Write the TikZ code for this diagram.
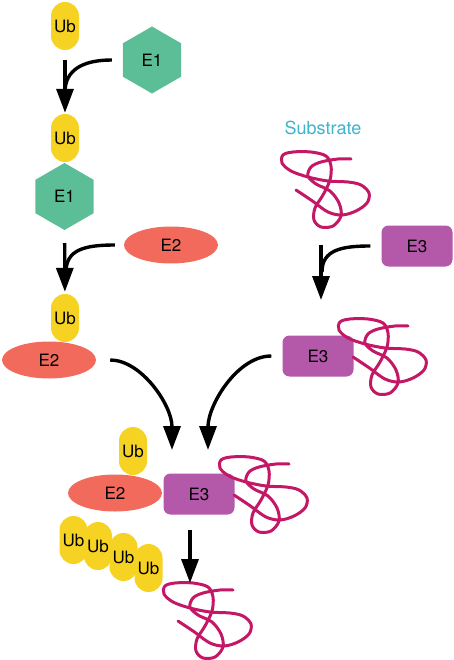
\documentclass[tikz,border=0pt]{standalone}
\usepackage{fontspec}
\setmainfont{TeX Gyre Heros}
\usetikzlibrary{arrows.meta,shapes.geometric}
\definecolor{ubyellow}{RGB}{246,210,35}
\definecolor{eonegreen}{RGB}{92,190,150}
\definecolor{etwored}{RGB}{241,106,92}
\definecolor{ethreepurple}{RGB}{180,88,170}
\definecolor{chainred}{RGB}{196,24,102}
\definecolor{subcyan}{RGB}{62,180,202}
\newcommand{\lbl}{\fontsize{17}{19}\selectfont}
\tikzstyle{ub}=[rectangle,rounded corners=14pt,fill=ubyellow,minimum width=28pt,minimum height=48pt,inner sep=0pt,font=\lbl]
\tikzstyle{eone}=[regular polygon,regular polygon sides=6,shape border rotate=30,fill=eonegreen,minimum size=67pt,inner sep=0pt,font=\lbl]
\tikzstyle{etwo}=[ellipse,fill=etwored,minimum width=94pt,minimum height=37pt,inner sep=0pt,font=\lbl]
\tikzstyle{ethree}=[rectangle,rounded corners=7pt,fill=ethreepurple,minimum width=71pt,minimum height=41pt,inner sep=0pt,font=\lbl]
\tikzstyle{strand}=[draw=chainred,line width=3pt,line cap=round,line join=round]
\tikzstyle{flow}=[line width=3.4pt]
\tikzset{tangle/.pic={
  \draw[strand] plot[smooth,tension=0.55] coordinates {(-30,0) (-15,10) (2,22) (16,25) (30,21) (41,13) (43,3) (35,-5) (22,-8) (2,-9) (-18,-13) (-35,-19) (-44,-27) (-43,-35) (-33,-38) (-15,-38) (0,-34) (5,-24) (4,-10) (-3,5) (-11,18) (-12,30) (-5,37) (7,36) (15,26) (13,13) (4,1) (-10,-6) (-18,-14) (-15,-23) (-5,-28) (12,-31) (25,-31)};
}}

\begin{document}
\begin{tikzpicture}[x=1pt,y=-1pt,>={Triangle[length=24pt,width=17pt]}]
\useasboundingbox (0,0) rectangle (453,660);
% ubiquitin and enzymes
\node [ub] (ubfree) at (65,26) {Ub};
\node [eone] (eonefree) at (152,60) {E1};
\node [ub] (ubone) at (65,138) {Ub};
\node [eone] (eone) at (64.5,196.5) {E1};
\node [etwo] (etwofree) at (171,245) {E2};
\node [ub] (ubtwo) at (65,318) {Ub};
\node [etwo] (etwo) at (49,360) {E2};
\node [ub] (ubthree) at (133,451) {Ub};
\node [etwo] (etwolig) at (115,493) {E2};
\node [ethree] (ethreelig) at (199,494) {E3};
\node [ethree] (ethreefree) at (417,246) {E3};
\node [ethree] (ethree) at (318,356) {E3};
\node [font=\fontsize{18}{20}\selectfont,text=subcyan] (sublabel) at (323,128) {Substrate};
% polyubiquitin chain
\node [ub] (ubca) at (73.5,540) {Ub};
\node [ub] (ubcb) at (98,546) {Ub};
\node [ub] (ubcc) at (123.5,557) {Ub};
\node [ub] (ubcd) at (148.5,568) {Ub};
% substrates
\pic at (326,190) {tangle};
\pic at (383,357) {tangle};
\pic at (264,495) {tangle};
\pic at (208,621) {tangle};
% arrows
\coordinate (jone) at (65,92);
\coordinate (jtwo) at (66,272);
\coordinate (sone) at (321,245);
\coordinate (stip) at (321,300);
\coordinate (jfive) at (322,272);
\coordinate (tthree) at (172,450);
\coordinate (tfour) at (208,450);
\coordinate (sixs) at (190,530);
\coordinate (sixe) at (190,583);
\draw[flow,->,shorten <=10pt,shorten >=1pt] (ubfree) -- (ubone);
\draw[flow,shorten <=11pt] (eonefree.west) .. controls +(-40,0) and +(0,-22) .. (jone);
\draw[flow,->,shorten <=13pt,shorten >=2pt] (eone) -- (ubtwo);
\draw[flow,shorten <=9pt] (etwofree.west) .. controls +(-40,0) and +(0,-22) .. (jtwo);
\draw[flow,->] (sone) -- (stip);
\draw[flow,shorten <=11pt] (ethreefree.west) .. controls +(-40,0) and +(0,-22) .. (jfive);
\draw[flow,->,shorten <=14pt] (etwo.east) .. controls +(45,0) and +(0,-45) .. (tthree);
\draw[flow,->,shorten <=11pt] (ethree.west) .. controls +(-45,0) and +(0,-45) .. (tfour);
\draw[flow,->] (sixs) -- (sixe);
\end{tikzpicture}
\end{document}
